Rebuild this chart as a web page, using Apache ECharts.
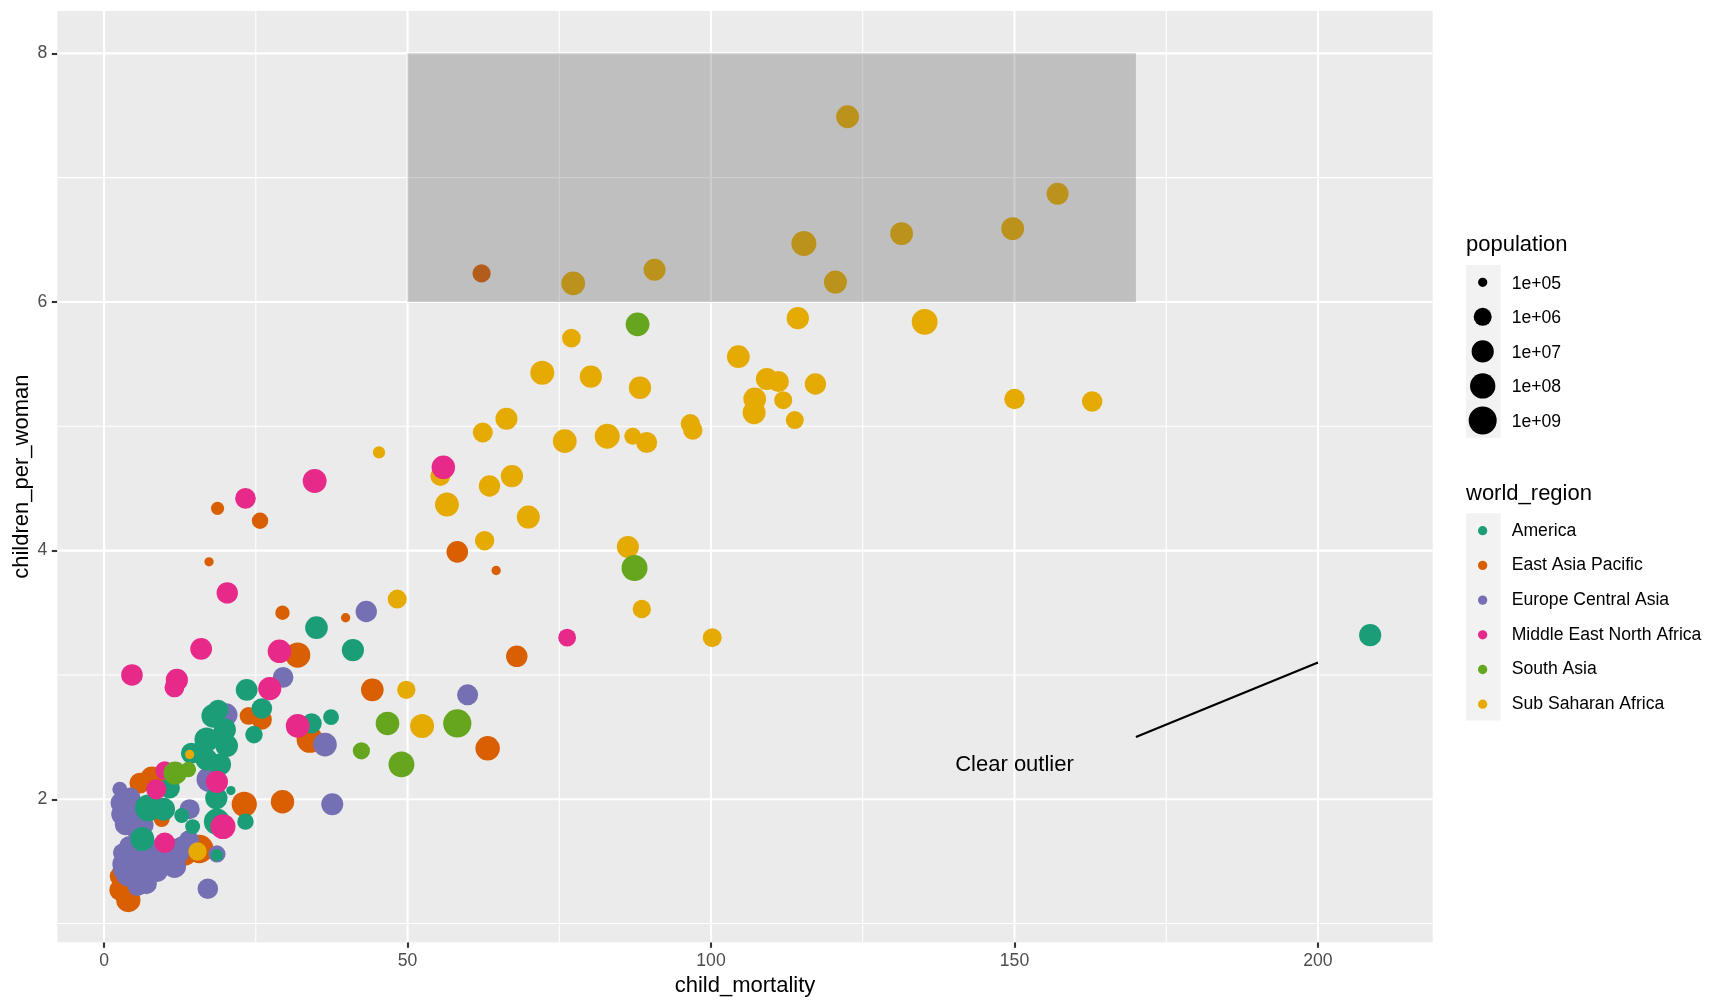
<!DOCTYPE html>
<html>
<head>
<meta charset="utf-8">
<script src="https://cdn.jsdelivr.net/npm/echarts@6/dist/echarts.min.js"></script>
<style>html,body{margin:0;padding:0;background:#fff}#c{width:1728px;height:1008px}</style>
</head>
<body>
<div id="c"></div>
<script>
// ---------------- DATA ----------------
const regionNames = ['America', 'East Asia Pacific', 'Europe Central Asia', 'Middle East North Africa', 'South Asia', 'Sub Saharan Africa'];
const regionColors = ['#1B9E77', '#D95F02', '#7570B3', '#E7298A', '#66A61E', '#E6AB02'];

// population in millions
const americaMortality = [208.6, 35.0, 41.0, 23.5, 26.0, 24.7, 18.0, 18.8, 19.9, 20.2, 16.9, 14.4, 19.1, 16.9, 34.2, 37.4, 10.8, 7.3, 9.8, 12.8, 14.6, 18.5, 18.6, 23.3, 20.9, 6.3, 18.6];
const americaFertility = [3.32, 3.38, 3.20, 2.88, 2.73, 2.52, 2.67, 2.72, 2.56, 2.43, 2.48, 2.37, 2.28, 2.32, 2.61, 2.66, 2.09, 1.93, 1.92, 1.87, 1.78, 2.01, 1.82, 1.82, 2.07, 1.68, 1.55];
const americaPopulation = [10, 14, 10, 8, 4, 0.8, 30, 3, 10, 14, 45, 5, 10, 10, 3, 0.4, 4, 310, 17, 0.3, 0.3, 11, 195, 0.5, 0.1, 34, 0.15];

const eapMortality = [62.2, 58.2, 64.6, 68.0, 63.2, 18.7, 25.7, 17.3, 29.4, 39.8, 31.9, 44.2, 23.8, 26.0, 33.9, 5.9, 7.9, 9.5, 23.1, 29.4, 13.3, 15.7, 2.6, 2.6, 4.0];
const eapFertility = [6.23, 3.99, 3.84, 3.15, 2.41, 4.34, 4.24, 3.91, 3.50, 3.46, 3.16, 2.88, 2.67, 2.64, 2.48, 2.13, 2.17, 1.84, 1.96, 1.98, 1.56, 1.60, 1.38, 1.27, 1.19];
const eapPopulation = [1.1, 7, 0.1, 6.5, 50, 0.18, 0.5, 0.1, 0.25, 0.1, 95, 14, 0.9, 2.8, 240, 4.4, 22, 0.4, 88, 24, 30, 1340, 3, 5, 49];

const ecaMortality = [43.2, 29.5, 59.9, 20.1, 36.4, 17.3, 14.1, 37.6, 18.6, 11.6, 17.1, 2.6, 2.8, 3.0, 4.3, 3.6, 5.0, 5.5, 6.5, 4.2, 5.3, 3.0, 3.2, 4.2, 5.0, 4.0, 3.5, 6.2, 7.0, 7.2, 6.0, 8.2, 9.5, 10.5, 12.8, 10.0, 8.8, 5.5, 12.0, 14.0];
const ecaFertility = [3.51, 2.98, 2.84, 2.68, 2.44, 2.16, 1.92, 1.96, 1.56, 1.46, 1.28, 2.08, 1.97, 1.88, 2.01, 1.80, 1.85, 1.76, 1.79, 1.92, 1.92, 1.57, 1.48, 1.62, 1.53, 1.40, 1.44, 1.36, 1.32, 1.58, 1.45, 1.50, 1.62, 1.55, 1.62, 1.50, 1.42, 1.30, 1.58, 1.67];
const ecaPopulation = [6, 4, 5, 16, 28, 73, 3, 9, 0.7, 20, 3.8, 0.3, 5, 9, 4.5, 10, 8, 10, 3, 63, 62, 1.3, 10, 5, 8, 82, 60, 10, 4, 3.2, 38, 7, 3, 46, 3, 7, 5, 2, 143, 3];

const menaMortality = [55.9, 76.3, 34.7, 23.3, 20.3, 4.6, 12.0, 11.6, 16.0, 28.9, 27.3, 31.9, 10.0, 8.6, 18.6, 19.6, 10.0];
const menaFertility = [4.67, 3.30, 4.56, 4.42, 3.66, 3.00, 2.96, 2.90, 3.21, 3.19, 2.89, 2.59, 2.23, 2.08, 2.14, 1.78, 1.65];
const menaPopulation = [25, 0.9, 32, 4, 6, 7, 10, 2.5, 8, 25, 20, 30, 1.5, 3, 10, 75, 4];

const southAsiaMortality = [87.9, 87.4, 58.2, 46.7, 49.0, 42.4, 11.7, 13.9];
const southAsiaFertility = [5.82, 3.86, 2.61, 2.61, 2.28, 2.39, 2.21, 2.24];
const southAsiaPopulation = [30, 170, 1200, 27, 150, 0.7, 20, 0.35];

const ssaMortality = [77.3, 90.7, 122.5, 115.3, 120.5, 131.4, 149.7, 157.1, 114.3, 135.2, 77.0, 72.2, 80.2, 88.3, 104.5, 109.2, 111.1, 117.2, 107.2, 111.9, 107.1, 113.8, 150.0, 162.8, 66.3, 62.4, 75.9, 82.9, 87.1, 89.4, 96.6, 97.0, 55.4, 63.5, 67.2, 56.5, 69.9, 62.7, 86.3, 88.6, 100.2, 48.3, 49.8, 45.3, 52.4, 14.1, 15.4];
const ssaFertility = [6.15, 6.26, 7.49, 6.47, 6.16, 6.55, 6.59, 6.87, 5.87, 5.84, 5.71, 5.43, 5.40, 5.31, 5.56, 5.38, 5.36, 5.34, 5.22, 5.21, 5.11, 5.05, 5.22, 5.20, 5.06, 4.95, 4.88, 4.92, 4.92, 4.87, 5.02, 4.97, 4.60, 4.52, 4.60, 4.37, 4.27, 4.08, 4.03, 3.53, 3.30, 3.61, 2.88, 4.79, 2.59, 2.36, 1.58];
const ssaPopulation = [30, 9, 16, 75, 18, 16, 16, 9, 11, 160, 1.4, 36, 11, 11, 15, 9, 5, 6, 15, 1, 18, 1, 3.5, 3.5, 9, 2.7, 30, 75, 0.6, 5, 2, 2, 2.5, 6, 11, 36, 18, 2, 9, 1.2, 1.6, 1.6, 1.2, 0.15, 36, 0.1, 1.2];

const xTicks = [0, 50, 100, 150, 200];
const xMinorTicks = [25, 75, 125, 175];
const yTicks = [2, 4, 6, 8];
const yMinorTicks = [1, 3, 5, 7];
const populationBreaks = [1e5, 1e6, 1e7, 1e8, 1e9];
const populationBreakLabels = ['1e+05', '1e+06', '1e+07', '1e+08', '1e+09'];

// annotations
const highlightRect = [50, 170, 6, 8];           // xmin, xmax, ymin, ymax
const outlierSegment = [170, 2.5, 200, 3.1];     // x, y, xend, yend
const outlierLabelPos = [150, 2.3];
const outlierLabelText = 'Clear outlier';

// ---------------- BUILD ----------------
const FONT = "'Liberation Sans', Arial, Helvetica, sans-serif";
const regionData = [
  [americaMortality, americaFertility, americaPopulation],
  [eapMortality, eapFertility, eapPopulation],
  [ecaMortality, ecaFertility, ecaPopulation],
  [menaMortality, menaFertility, menaPopulation],
  [southAsiaMortality, southAsiaFertility, southAsiaPopulation],
  [ssaMortality, ssaFertility, ssaPopulation]
];
function rows(i) {
  const [xs, ys, ps] = regionData[i];
  return xs.map((x, k) => [x, ys[k], ps[k] * 1e6]);
}
// ggplot-like area size scale on log10(population)
function sizeFor(pop) {
  return 7.9 + 10.03 * Math.sqrt(Math.max(0, Math.log10(pop) - 4.98));
}
let allX = [], allY = [];
regionData.forEach(r => { allX = allX.concat(r[0]); allY = allY.concat(r[1]); });
const xLo = Math.min(...allX, highlightRect[0]), xHi = Math.max(...allX, highlightRect[1]);
const yLo = Math.min(...allY, highlightRect[2]), yHi = Math.max(...allY, highlightRect[3]);
const xPad = 0.05 * (xHi - xLo), yPad = 0.05 * (yHi - yLo);
const X_MIN = xLo - xPad, X_MAX = xHi + xPad, Y_MIN = yLo - yPad, Y_MAX = yHi + yPad;

const gridLineData = [];
xTicks.forEach(v => gridLineData.push([v, 0]));
xMinorTicks.forEach(v => gridLineData.push([v, 1]));
yTicks.forEach(v => gridLineData.push([v, 2]));
yMinorTicks.forEach(v => gridLineData.push([v, 3]));

const drawOrder = [1, 2, 0, 5, 3, 4]; // EAP, ECA, America, SSA, MENA, South Asia
const pointSeries = drawOrder.map(i => ({
  name: regionNames[i],
  type: 'scatter',
  data: rows(i),
  symbol: 'circle',
  symbolSize: v => sizeFor(v[2]),
  itemStyle: { color: regionColors[i], opacity: 1 },
  emphasis: { disabled: true },
  silent: true,
  z: 3
}));

const GRID = { left: 57.3, right: 295.3, top: 11, bottom: 65.7 };

const option = {
  animation: false,
  backgroundColor: '#ffffff',
  textStyle: { fontFamily: FONT },
  grid: {
    left: GRID.left, right: GRID.right, top: GRID.top, bottom: GRID.bottom,
    show: true, backgroundColor: '#EBEBEB', borderWidth: 0, containLabel: false,
    outerBoundsMode: 'none'
  },
  xAxis: {
    type: 'value', min: X_MIN, max: X_MAX,
    name: 'child_mortality', nameLocation: 'middle', nameGap: 32.7, nameMoveOverlap: false,
    nameTextStyle: { fontSize: 22, color: '#000000', fontFamily: FONT },
    axisLine: { show: false, onZero: false },
    axisTick: { show: true, length: 5.5, lineStyle: { color: '#333333', width: 2.1 }, customValues: xTicks },
    axisLabel: { show: true, customValues: xTicks, margin: 9.9, fontSize: 17.6, color: '#4D4D4D', fontFamily: FONT },
    splitLine: { show: false }
  },
  yAxis: {
    type: 'value', min: Y_MIN, max: Y_MAX,
    name: 'children_per_woman', nameLocation: 'middle', nameGap: 24.3, nameRotate: 90, nameMoveOverlap: false,
    nameTextStyle: { fontSize: 22, color: '#000000', fontFamily: FONT },
    axisLine: { show: false, onZero: false },
    axisTick: { show: true, length: 5.5, lineStyle: { color: '#333333', width: 2.1 }, customValues: yTicks },
    axisLabel: { show: true, customValues: yTicks, margin: 9.9, fontSize: 17.6, color: '#4D4D4D', fontFamily: FONT },
    splitLine: { show: false }
  },
  legend: {
    data: regionNames.map(n => ({ name: n, icon: 'circle' })),
    orient: 'vertical', left: 1478, top: 520.7, padding: 0,
    itemWidth: 9.3, itemHeight: 9.3, itemGap: 14.7,
    selectedMode: false,
    textStyle: { fontSize: 17.6, color: '#000000', fontFamily: FONT, lineHeight: 20, padding: [0, 0, 0, 19.4] }
  },
  graphic: [
    { type: 'rect', z: 0, shape: { x: 1466, y: 265, width: 34.6, height: 172.7 }, style: { fill: '#F2F2F2' } },
    { type: 'rect', z: 0, shape: { x: 1466, y: 513.3, width: 34.6, height: 207.3 }, style: { fill: '#F2F2F2' } },
    { type: 'text', left: 1466, top: 234.4, style: { text: 'population', fontSize: 22, fill: '#000', fontFamily: FONT } },
    { type: 'text', left: 1466, top: 483.4, style: { text: 'world_region', fontSize: 22, fill: '#000', fontFamily: FONT } }
  ].concat(populationBreaks.map((b, i) => ({
    type: 'circle', z: 1, shape: { cx: 1482.7, cy: 282.3 + i * 34.55, r: sizeFor(b) / 2 }, style: { fill: '#000' }
  }))).concat(populationBreakLabels.map((t, i) => ({
    type: 'text', z: 1, x: 1511.7, y: 283.8 + i * 34.55,
    style: { text: t, fontSize: 17.6, fill: '#000', fontFamily: FONT, verticalAlign: 'middle', align: 'left' }
  }))),
  series: [
    {
      type: 'custom', name: 'gridlines', silent: true, z: 1,
      data: gridLineData,
      renderItem: function (params, api) {
        const v = api.value(0), kind = api.value(1);
        const cs = params.coordSys;
        let shape;
        if (kind < 2) {
          const px = api.coord([v, Y_MIN])[0];
          shape = { x1: px, y1: cs.y, x2: px, y2: cs.y + cs.height };
        } else {
          const py = api.coord([X_MIN, v])[1];
          shape = { x1: cs.x, y1: py, x2: cs.x + cs.width, y2: py };
        }
        return { type: 'line', shape: shape, style: { stroke: '#FFFFFF', lineWidth: (kind === 0 || kind === 2) ? 2.13 : 1.07 } };
      }
    }
  ].concat(pointSeries).concat([
    {
      type: 'custom', name: 'rect', silent: true, z: 5,
      data: [highlightRect],
      encode: { x: [0, 1], y: [2, 3] },
      renderItem: function (params, api) {
        const p1 = api.coord([api.value(0), api.value(3)]);
        const p2 = api.coord([api.value(1), api.value(2)]);
        return { type: 'rect', shape: { x: p1[0], y: p1[1], width: p2[0] - p1[0], height: p2[1] - p1[1] }, style: { fill: 'rgba(89,89,89,0.3)' } };
      }
    },
    {
      type: 'custom', name: 'segment', silent: true, z: 5,
      data: [outlierSegment],
      encode: { x: [0, 2], y: [1, 3] },
      renderItem: function (params, api) {
        const p1 = api.coord([api.value(0), api.value(1)]);
        const p2 = api.coord([api.value(2), api.value(3)]);
        return { type: 'line', shape: { x1: p1[0], y1: p1[1], x2: p2[0], y2: p2[1] }, style: { stroke: '#000', lineWidth: 2.13 } };
      }
    },
    {
      type: 'custom', name: 'label', silent: true, z: 5,
      data: [outlierLabelPos],
      renderItem: function (params, api) {
        const p = api.coord([api.value(0), api.value(1)]);
        return { type: 'text', x: p[0], y: p[1] + 3.3, style: { text: outlierLabelText, fontSize: 22, fill: '#000', fontFamily: FONT, align: 'center', verticalAlign: 'middle' } };
      }
    }
  ])
};

const chart = echarts.init(document.getElementById('c'), null, { renderer: 'canvas' });
chart.setOption(option);
</script>
</body>
</html>
